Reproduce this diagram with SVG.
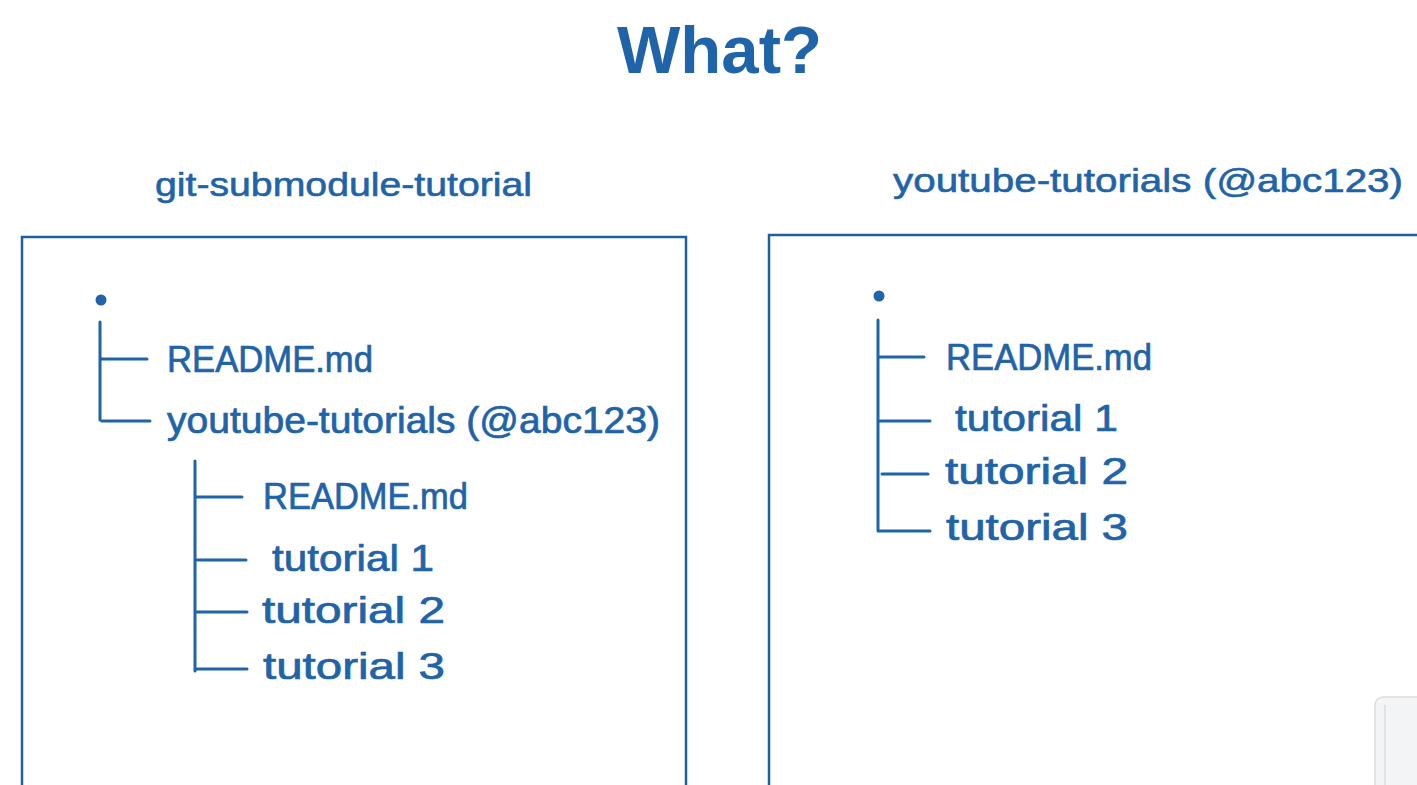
<svg xmlns="http://www.w3.org/2000/svg" width="1417" height="785" viewBox="0 0 1417 785">
<style>
  .t { font-family: "Liberation Sans", Arial, sans-serif; fill: #1f63a9; font-size: 36px; stroke: #1f63a9; stroke-width: 0.7; }
  .h { font-family: "Liberation Sans", Arial, sans-serif; fill: #1f63a9; font-size: 34px; stroke: #1f63a9; stroke-width: 0.6; }
  .big { font-family: "Liberation Sans", Arial, sans-serif; fill: #1f63a9; font-size: 66px; font-weight: bold; }
  .box { fill: none; stroke: #1d5f9f; stroke-width: 2.5; }
  .ln { stroke: #1f63a9; stroke-width: 3; stroke-linecap: round; fill: none; }
  .dot { fill: #1f63a9; }
</style>
<rect width="1417" height="785" fill="#ffffff"/>
<g id="title">
  <text class="big" x="617" y="73" textLength="205" lengthAdjust="spacingAndGlyphs">What?</text>
</g>
<g id="left-repo">
  <text class="h" x="155" y="196" textLength="377" lengthAdjust="spacingAndGlyphs">git-submodule-tutorial</text>
  <rect class="box" x="22" y="237" width="664" height="560"/>
  <circle class="dot" cx="101" cy="300" r="5.5"/>
  <text class="t" x="167" y="372" textLength="206" lengthAdjust="spacingAndGlyphs">README.md</text>
  <text class="t" x="167" y="433" textLength="493" lengthAdjust="spacingAndGlyphs">youtube-tutorials (@abc123)</text>
  <g id="left-sub">
    <text class="t" x="263" y="509" textLength="205" lengthAdjust="spacingAndGlyphs">README.md</text>
    <text class="t" x="272" y="571" textLength="162" lengthAdjust="spacingAndGlyphs">tutorial 1</text>
    <text class="t" x="262" y="623" textLength="183" lengthAdjust="spacingAndGlyphs">tutorial 2</text>
    <text class="t" x="263" y="679" textLength="182" lengthAdjust="spacingAndGlyphs">tutorial 3</text>
  </g>
</g>
<g id="right-repo">
  <text class="h" x="893" y="192" textLength="510" lengthAdjust="spacingAndGlyphs">youtube-tutorials (@abc123)</text>
  <rect class="box" x="769" y="235" width="660" height="560"/>
  <circle class="dot" cx="879" cy="296" r="5.5"/>
  <text class="t" x="946" y="370" textLength="206" lengthAdjust="spacingAndGlyphs">README.md</text>
  <text class="t" x="955" y="431" textLength="163" lengthAdjust="spacingAndGlyphs">tutorial 1</text>
  <text class="t" x="945" y="484" textLength="183" lengthAdjust="spacingAndGlyphs">tutorial 2</text>
  <text class="t" x="946" y="540" textLength="182" lengthAdjust="spacingAndGlyphs">tutorial 3</text>
</g>
<g id="connectors">
  <path class="ln" d="M100 322 L100 420 M100 359 L147 359 M102 421 L150 421"/>
  <path class="ln" d="M195 461 L195 671 M195 497 L242 497 M197 560 L246 560 M197 612 L247 612 M197 669 L247 669"/>
  <path class="ln" d="M878 320 L878 531 M878 357 L924 357 M880 421 L930 421 M882 474 L928 474 M880 531 L930 531"/>
</g>
<g id="corner-widget">
  <rect x="1375" y="697" width="60" height="100" rx="8" fill="#f3f4f5" stroke="#dcdcdc" stroke-width="1.5"/>
  <line x1="1385" y1="705" x2="1385" y2="785" stroke="#e2e2e2" stroke-width="2"/>
</g>
</svg>
